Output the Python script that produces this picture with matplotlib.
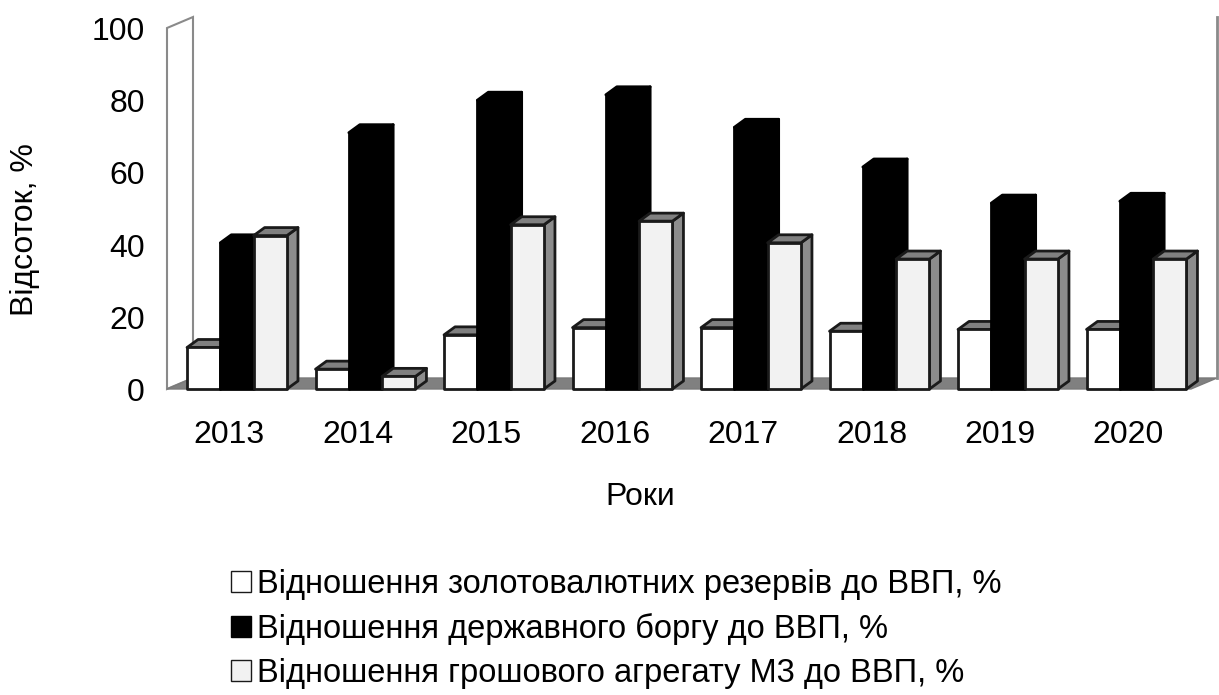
import matplotlib
matplotlib.use("Agg")
import matplotlib.pyplot as plt
from matplotlib.patches import Polygon, Rectangle, Patch

plt.rcParams['font.family'] = ['Liberation Sans', 'DejaVu Sans']

years = ['2013', '2014', '2015', '2016', '2017', '2018', '2019', '2020']
reserves = [11.5, 5.5, 15, 17, 17, 16, 16.5, 16.5]
debt = [40.5, 71, 80, 81.5, 72.5, 61.5, 51.5, 52]
m3 = [42.5, 3.5, 45.5, 46.5, 40.5, 36, 36, 36]
series_names = ['Відношення золотовалютних резервів до ВВП, %',
                'Відношення державного боргу до ВВП, %',
                'Відношення грошового агрегату М3 до ВВП, %']
yticks = [0, 20, 40, 60, 80, 100]

W, H = 1219, 695
fig = plt.figure(figsize=(W / 100, H / 100), dpi=100)

# front plane of the 3-d box, in pixels
left_px, right_px = 167, 1191
bottom_px, top_px = 389, 28
ax = fig.add_axes([left_px / W, 1 - bottom_px / H,
                   (right_px - left_px) / W, (bottom_px - top_px) / H])
ax.axis('off')

pitch_px = 128.5
first_px = 237
xmin = (left_px - first_px) / pitch_px
xmax = (right_px - first_px) / pitch_px
ax.set_xlim(xmin, xmax)
ax.set_ylim(0, 100)

px_x = pitch_px
px_y = (bottom_px - top_px) / 100.0

# depth offsets (pixels -> data units)
bar_dx, bar_dy = 11 / px_x, 8 / px_y
wall_dx, wall_dy = 26 / px_x, 11 / px_y

wall_col = '#8a8a8a'

# left wall
ax.add_patch(Polygon([(xmin, 0), (xmin, 100), (xmin + wall_dx, 100 + wall_dy),
                      (xmin + wall_dx, wall_dy)], closed=True,
                     facecolor='white', edgecolor=wall_col, lw=1.5, clip_on=False))
# floor
ax.add_patch(Polygon([(xmin, 0), (xmax, 0), (xmax + wall_dx, wall_dy),
                      (xmin + wall_dx, wall_dy)], closed=True,
                     facecolor='#808080', edgecolor='#7a7a7a', lw=1, clip_on=False))
# right edge of back wall
ax.plot([xmax + wall_dx, xmax + wall_dx], [wall_dy, 100 + wall_dy],
        color=wall_col, lw=2, clip_on=False)

bw = 33.3 / pitch_px
front_cols = ['white', 'black', '#f2f2f2']
top_cols = ['#808080', 'black', '#808080']
side_cols = ['#808080', 'black', '#8c8c8c']
edge_cols = ['#1a1a1a', 'black', '#1a1a1a']

data = [reserves, debt, m3]
for i in range(len(years)):
    for s in range(3):
        v = data[s][i]
        x0 = i - 1.5 * bw + s * bw
        x1 = x0 + bw
        side = Polygon([(x1, 0), (x1 + bar_dx, bar_dy), (x1 + bar_dx, v + bar_dy), (x1, v)],
                       closed=True, facecolor=side_cols[s], edgecolor=edge_cols[s],
                       lw=2, clip_on=False, joinstyle='round')
        top = Polygon([(x0, v), (x0 + bar_dx, v + bar_dy), (x1 + bar_dx, v + bar_dy), (x1, v)],
                      closed=True, facecolor=top_cols[s], edgecolor=edge_cols[s],
                      lw=2, clip_on=False, joinstyle='round')
        front = Rectangle((x0, 0), bw, v, facecolor=front_cols[s], edgecolor=edge_cols[s],
                          lw=2, clip_on=False, joinstyle='round')
        ax.add_patch(side)
        ax.add_patch(top)
        ax.add_patch(front)

# tick labels
for t in yticks:
    ax.text(xmin - 22 / px_x, t - 4 / px_y, str(t), ha='right', va='center', fontsize=23)
for i, yr in enumerate(years):
    ax.text(i - 8 / px_x, -46 / px_y, yr, ha='center', va='center', fontsize=23)

fig.text(25 / W, 1 - 230 / H, 'Відсоток, %', rotation=90, ha='center', va='center', fontsize=23)
fig.text(640 / W, 1 - 497 / H, 'Роки', ha='center', va='center', fontsize=23)

handles = [Patch(facecolor=front_cols[s], edgecolor='#1a1a1a' if s != 1 else 'black', lw=1)
           for s in range(3)]
fig.legend(handles, series_names, loc='upper left', bbox_to_anchor=(231 / W, 1 - 569 / H),
           frameon=False, fontsize=23.5, handlelength=0.6, handleheight=0.6,
           handletextpad=0.2, labelspacing=0.4, borderpad=0, borderaxespad=0)

fig.savefig('out.png', dpi=100)
